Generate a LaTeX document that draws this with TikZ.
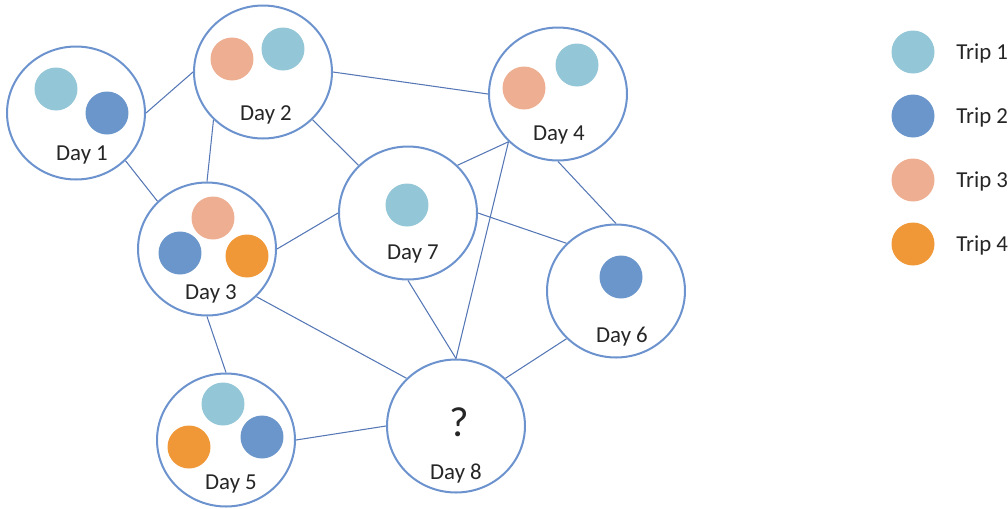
\documentclass[tikz,border=0pt]{standalone}
\usepackage{fontspec}
\setmainfont{Carlito}
\usetikzlibrary{shapes.geometric}

\definecolor{tripA}{HTML}{93C6D6}
\definecolor{tripB}{HTML}{6A96CB}
\definecolor{tripC}{HTML}{EEAE91}
\definecolor{tripD}{HTML}{F09838}
\definecolor{ringblue}{HTML}{6C93CE}
\definecolor{linkblue}{HTML}{5677B5}

\begin{document}
\begin{tikzpicture}[x=0.02cm, y=-0.02cm,
  day/.style={ellipse, draw=ringblue, line width=1.15pt, minimum width=2.76cm, minimum height=2.66cm, inner sep=0pt},
  dot/.style={circle, inner sep=0pt, minimum size=0.86cm},
  link/.style={draw=linkblue, line width=0.6pt},
  lbl/.style={inner sep=0pt, text=black!85, font=\fontsize{13}{15}\selectfont}]

\useasboundingbox (0,0) rectangle (1008,508);

% days
\node[day] (d1) at (76,113) {};
\node[day] (d2) at (263,72) {};
\node[day] (d3) at (207,249) {};
\node[day] (d4) at (558,94) {};
\node[day] (d5) at (226,440) {};
\node[day] (d6) at (616,291) {};
\node[day] (d7) at (408,213) {};
\node[day] (d8) at (456,426) {};

\node[lbl] (t1) at (82,155) {Day 1};
\node[lbl] (t2) at (266,115) {Day 2};
\node[lbl] (t3) at (211,294) {Day 3};
\node[lbl] (t4) at (559,135) {Day 4};
\node[lbl] (t5) at (231,484) {Day 5};
\node[lbl] (t6) at (622,337) {Day 6};
\node[lbl] (t7) at (413,254) {Day 7};
\node[lbl] (t8) at (456,474) {Day 8};
\node[lbl, font=\fontsize{24}{26}\selectfont] (q8) at (459,422) {?};

% trips inside the days
\node[dot, fill=tripA] (d1a) at (56,89) {};
\node[dot, fill=tripB] (d1b) at (107,113) {};
\node[dot, fill=tripC] (d2c) at (232,59) {};
\node[dot, fill=tripA] (d2a) at (283,49) {};
\node[dot, fill=tripC] (d3c) at (213,218) {};
\node[dot, fill=tripB] (d3b) at (180,253) {};
\node[dot, fill=tripD] (d3d) at (247,256) {};
\node[dot, fill=tripC] (d4c) at (524,88) {};
\node[dot, fill=tripA] (d4a) at (577,65) {};
\node[dot, fill=tripA] (d5a) at (223,404) {};
\node[dot, fill=tripD] (d5d) at (189,447) {};
\node[dot, fill=tripB] (d5b) at (262,437) {};
\node[dot, fill=tripB] (d6b) at (621,277) {};
\node[dot, fill=tripA] (d7a) at (407,205) {};

% links
\draw[link] (d1.east) -- (d2.west);
\draw[link] (d1.south east) -- (d3.north west);
\draw[link] (d2.south west) -- (d3.north);
\draw[link] (d2.east) -- (d4.west);
\draw[link] (d2.south east) -- (d7.north west);
\draw[link] (d4.south west) -- (d7.north east);
\draw[link] (d4.south west) -- (d8.north);
\draw[link] (d4.south) -- (d6.north);
\draw[link] (d7.west) -- (d3.east);
\draw[link] (d7.east) -- (d6.north west);
\draw[link] (d7.south) -- (d8.north);
\draw[link] (d3.south east) -- (d8.north west);
\draw[link] (d3.south) -- (d5.north);
\draw[link] (d5.east) -- (d8.west);
\draw[link] (d6.south west) -- (d8.north east);

% legend
\foreach \c/\y/\n in {tripA/52/1, tripB/116/2, tripC/180/3, tripD/244/4}
{
   \node[dot, fill=\c] (key\n) at (913,\y) {};
   \node[lbl, anchor=west] (keytext\n) at (956,\y+1) {Trip \n};
}

\end{tikzpicture}
\end{document}
